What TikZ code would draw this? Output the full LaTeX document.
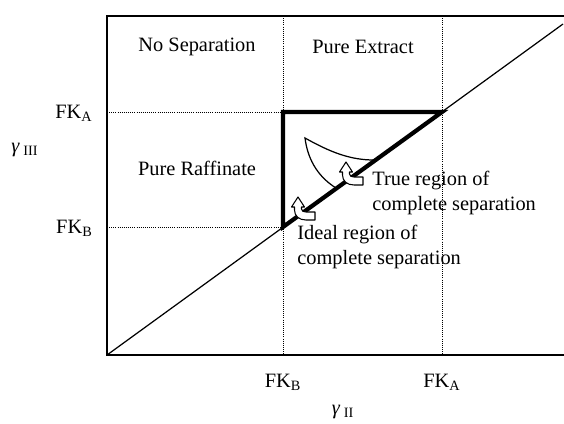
\documentclass[tikz,border=0pt]{standalone}
\usepackage{fontspec}
\setmainfont{Liberation Serif}
\usetikzlibrary{positioning}

\tikzset{
    bentarrow/.pic={
        \draw[hollow] (0,0) -- (6.5,10) -- (3.5,10) -- (3.5,12)
            .. controls (3.5,14) and (5.5,15) .. (8,15) -- (17,15) -- (17,23) -- (8,23)
            .. controls (1,23) and (-3.5,19) .. (-3.5,13) -- (-3.5,10) -- (-6.5,10) -- cycle;
    }
}

\begin{document}
\begin{tikzpicture}[
    x=0.02cm, y=-0.02cm,
    region/.style={font=\fontsize{11.6}{14}\selectfont, align=center},
    note/.style={font=\fontsize{11.6}{14.2}\selectfont, align=left, anchor=west, inner sep=0pt},
    ticklabel/.style={font=\fontsize{11.6}{14}\selectfont, inner sep=0pt},
    gridline/.style={line width=0.4pt, dash pattern=on 0.5pt off 0.7pt},
    frame/.style={line width=1pt},
    bound/.style={line width=2.4pt, line join=miter},
    hollow/.style={draw, fill=white, line width=0.6pt, line join=round}
]
\useasboundingbox (0,0) rectangle (564,423);

% corners of the plot
\coordinate (O) at (107,355);
\coordinate (TL) at (107,16);
\coordinate (TR) at (564,16);
\coordinate (BR) at (564,355);
\coordinate (D) at (563,24);

% FK levels
\coordinate (xB) at (283,355);
\coordinate (xA) at (442,355);
\coordinate (xBtop) at (283,16);
\coordinate (xAtop) at (442,16);
\coordinate (yB) at (107,227);
\coordinate (yA) at (107,112);
\coordinate (cB) at (283,227);
\coordinate (cA) at (283,112);
\coordinate (cAA) at (442,112);

% dotted grid
\draw[gridline] (xBtop) -- (xB);
\draw[gridline] (xAtop) -- (xA);
\draw[gridline] (yA) -- (cA);
\draw[gridline] (yB) -- (cB);

% axes and frame
\draw[frame] (TR) -- (TL) -- (O) -- (BR);
\draw[line width=0.7pt] (O) -- (D);

% ideal triangle
\draw[bound] (cA) -- (cAA) -- (cB) -- cycle;

% true region
\coordinate (tip) at (305,138);
\draw[line width=0.7pt] (336,188) .. controls (320,178) and (308,162) .. (tip)
    .. controls (330,152) and (350,160) .. (374,160);

% hollow arrows
\pic at (298,197) {bentarrow};
\pic at (346,162) {bentarrow};

% region labels
\node[region] (nosep) at (197,47) {No Separation};
\node[region] (extract) at (363,47) {Pure Extract};
\node[region] (raff) at (197,168) {Pure Raffinate};
\node[note] (truereg) at (372,193) {True region of\\ complete separation};
\node[note] (idealreg) at (297,247) {Ideal region of\\ complete separation};

% axis labels
\node[ticklabel, anchor=base east] (fkAy) at (93,118) {FK\textsubscript{A}};
\node[ticklabel, anchor=base east] (fkBy) at (93,233) {FK\textsubscript{B}};
\node[ticklabel, anchor=base] (fkBx) at (283,387) {FK\textsubscript{B}};
\node[ticklabel, anchor=base] (fkAx) at (442,387) {FK\textsubscript{A}};
\node[ticklabel] (gIII) at (25,150) {\textit{γ}\,\textsubscript{III}};
\node[ticklabel] (gII) at (343,412) {\textit{γ}\,\textsubscript{II}};

\end{tikzpicture}
\end{document}
